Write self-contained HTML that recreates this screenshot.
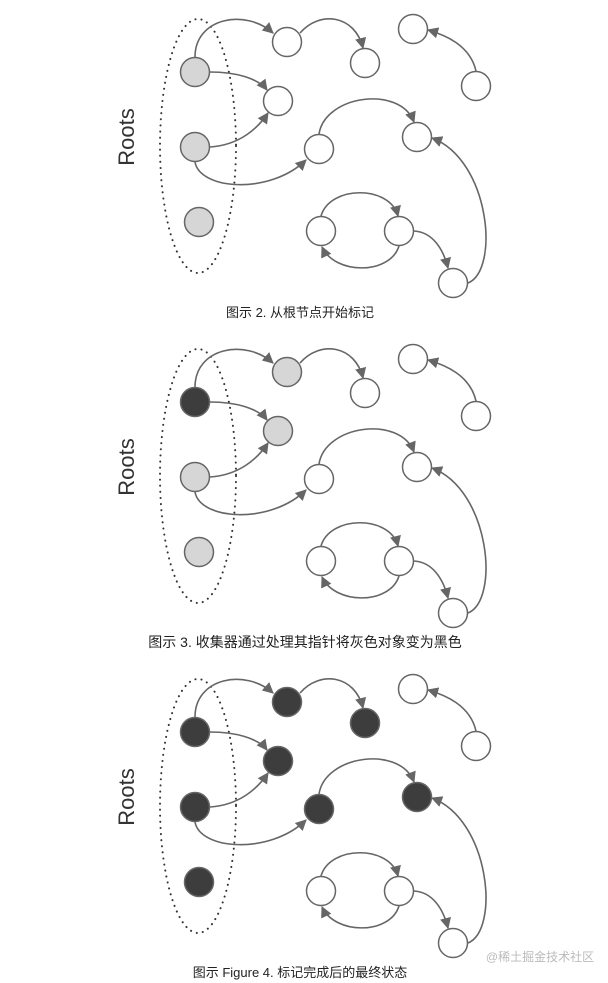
<!DOCTYPE html>
<html><head><meta charset="utf-8"><style>
html,body{margin:0;padding:0;background:#fff;width:608px;height:983px;overflow:hidden}
svg{display:block}
</style></head><body>
<svg id="s" width="608" height="983" viewBox="0 0 608 983" xmlns="http://www.w3.org/2000/svg">
<defs><marker id="ar" viewBox="0 0 10 10" refX="9" refY="5" markerWidth="7" markerHeight="7" orient="auto-start-reverse"><path d="M0,0 L10,5 L0,10 z" fill="#666"/></marker></defs>
<text x="300" y="317" font-family="Liberation Sans, Noto Sans CJK SC, sans-serif" font-size="13" text-anchor="middle" fill="#222">图示 2. 从根节点开始标记</text>
<text x="305" y="647" font-family="Liberation Sans, Noto Sans CJK SC, sans-serif" font-size="14" text-anchor="middle" fill="#222">图示 3. 收集器通过处理其指针将灰色对象变为黑色</text>
<text x="300" y="977" font-family="Liberation Sans, Noto Sans CJK SC, sans-serif" font-size="13" text-anchor="middle" fill="#222">图示 Figure 4. 标记完成后的最终状态</text>
<text x="540" y="961" font-family="Liberation Sans, Noto Sans CJK SC, sans-serif" font-size="12" text-anchor="middle" fill="#bbb">@稀土掘金技术社区</text>
</svg>
<script>
var s=document.getElementById('s');
var NS='http://www.w3.org/2000/svg';
var nodes={A:[195,72],B:[195,147],C:[199,222],N1:[287,42],N2:[365,63],N3:[278,101],N4:[413,29],N5:[476,86],N6:[319,149],N7:[417,137],N8:[321,231],N9:[399,231],N10:[453,283]};
var edges=["M195,57 C195,18 245,8 273,33","M300,33 C320,10 355,15 363,48","M210,72 C235,72 258,78 267,90","M210,147 C240,145 258,128 268,113","M195,162 C200,190 270,195 306,160","M319,134 C325,95 400,85 414,122","M468,283 C500,270 490,160 432,138","M476,71 C470,45 445,35 428,30","M321,216 C330,185 390,185 398,216","M414,231 C432,232 443,248 448,268","M399,246 C390,275 335,275 322,247"];
var cols=[{A:'g',B:'g',C:'g'},{A:'d',B:'g',C:'g',N1:'g',N3:'g'},{A:'d',B:'d',C:'d',N1:'d',N2:'d',N3:'d',N6:'d',N7:'d'}];
function el(t,a){var e=document.createElementNS(NS,t);for(var k in a)e.setAttribute(k,a[k]);s.appendChild(e);return e;}
for(var p=0;p<3;p++){var o=p*330;
 el('ellipse',{cx:198,cy:146+o,rx:38,ry:127,fill:'none',stroke:'#333','stroke-width':2,'stroke-dasharray':'0.1 6','stroke-linecap':'round'});
 var t=el('text',{x:0,y:0,'font-family':'Liberation Sans, sans-serif','font-size':22,fill:'#333','text-anchor':'middle',transform:'translate(134,'+(137+o)+') rotate(-90)'});t.textContent='Roots';
 edges.forEach(function(d){el('path',{d:d,fill:'none',stroke:'#666','stroke-width':1.6,'marker-end':'url(#ar)',transform:'translate(0,'+o+')'});});
 for(var k in nodes){var c=cols[p][k];var f=c=='d'?'#3d3d3d':c=='g'?'#d6d6d6':'#fff';
  el('circle',{cx:nodes[k][0],cy:nodes[k][1]+o,r:14.5,fill:f,stroke:'#666','stroke-width':1.5});}
}
</script>
</body></html>
